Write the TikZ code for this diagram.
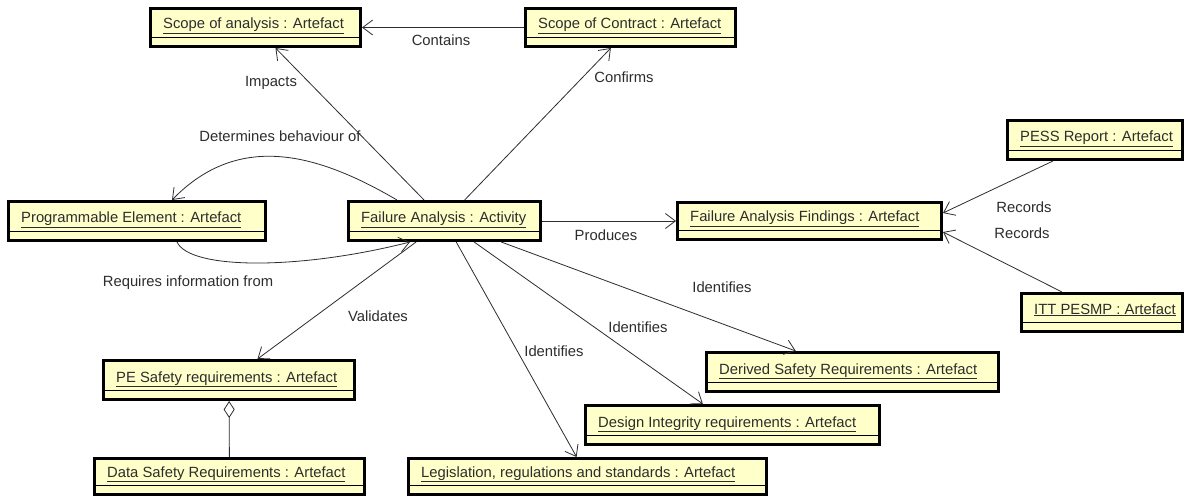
\documentclass[tikz,border=0pt]{standalone}
\usepackage{fontspec}
\setmainfont{Liberation Sans}
\usetikzlibrary{arrows.meta}

\definecolor{objfill}{RGB}{255,255,202}
\definecolor{ink}{RGB}{45,45,45}

\tikzset{
  objbox/.style={draw=black, line width=2.6pt, fill=objfill, rectangle, inner sep=0pt},
  divider/.style={draw=black, line width=0.9pt},
  objlabel/.style={inner sep=0pt, text=ink, font=\fontsize{14.8}{17}\selectfont},
  lbl/.style={inner sep=1pt, text=ink, font=\fontsize{14.8}{17}\selectfont},
  assoc/.style={draw=ink, line width=0.8pt, -{Straight Barb[length=10pt,width=15pt]}},
  aggr/.style={draw=ink, line width=0.8pt, {Diamond[open,length=17pt,width=11pt]}-},
}

% object box: name, left, top, width, height, caption
\newcommand\umlobj[6]{%
  \node[objbox, anchor=north west, minimum width=#4pt-2.6pt, minimum height=#5pt-2.6pt] (#1) at (#2,#3) {};
  \draw[divider] ([yshift=10.5pt]#1.south west) -- ([yshift=10.5pt]#1.south east);
  \node[objlabel, anchor=base west] (#1-t) at ([xshift=14pt,yshift=19pt]#1.south west) {\underline{#6}};
}

\begin{document}
\begin{tikzpicture}[x=1pt,y=-1pt]
  \useasboundingbox[fill=white] (0,0) rectangle (1186,497);

  \umlobj{sa}{149}{7}{213}{41}{Scope of analysis : Artefact}
  \umlobj{sc}{524}{7}{213}{41}{Scope of Contract : Artefact}
  \umlobj{pe}{7}{200}{260}{42}{Programmable Element : Artefact}
  \umlobj{fa}{347}{200}{195}{42}{Failure Analysis : Activity}
  \umlobj{fnd}{676}{201}{267}{40}{Failure Analysis Findings : Artefact}
  \umlobj{pess}{1006}{119}{178}{42}{PESS Report : Artefact}
  \umlobj{itt}{1020}{292}{164}{41}{ITT PESMP : Artefact}
  \umlobj{pes}{102}{359}{254}{42}{PE Safety requirements : Artefact}
  \umlobj{dsr}{93}{457}{273}{39}{Data Safety Requirements : Artefact}
  \umlobj{leg}{407}{457}{361}{39}{Legislation, regulations and standards : Artefact}
  \umlobj{dir}{584}{404}{297}{42}{Design Integrity requirements : Artefact}
  \umlobj{der}{705}{351}{295}{42}{Derived Safety Requirements : Artefact}

  % associations
  \draw[assoc] (sc) -- (sa);
  \draw[assoc] (fa) -- (sa);
  \draw[assoc] (fa) -- (sc);
  \draw[assoc] (fa) -- (fnd);
  \draw[assoc] (fa) -- (pes);
  \draw[assoc] (fa) -- (leg);
  \draw[assoc] (fa) -- (dir);
  \draw[assoc] (fa) -- (der);
  \draw[assoc] ([xshift=-47.5pt]fa.north) .. controls (320,155) and (240,130) .. ([xshift=35pt]pe.north);
  \draw[assoc] ([xshift=40pt]pe.south) .. controls (190,270) and (300,270) .. ([xshift=-34.5pt]fa.south);
  \draw[assoc] ([xshift=-42pt]pess.south) -- ([yshift=8pt]fnd.east);
  \draw[assoc] ([xshift=-40pt]itt.north) -- ([yshift=-11pt]fnd.east);
  \draw[aggr] (pes) -- (dsr);

  % association labels
  \node[lbl] (l-contains) at (441,40) {Contains};
  \node[lbl] (l-impacts) at (271,83) {Impacts};
  \node[lbl] (l-confirms) at (624,77) {Confirms};
  \node[lbl] (l-determines) at (280,136) {Determines behaviour of};
  \node[lbl] (l-requires) at (188,283) {Requires information from};
  \node[lbl] (l-produces) at (606,235) {Produces};
  \node[lbl] (l-validates) at (378,316) {Validates};
  \node[lbl] (l-ident1) at (554,351) {Identifies};
  \node[lbl] (l-ident2) at (638,327) {Identifies};
  \node[lbl] (l-ident3) at (722,287) {Identifies};
  \node[lbl] (l-records1) at (1024,207) {Records};
  \node[lbl] (l-records2) at (1022,233) {Records};
\end{tikzpicture}
\end{document}
